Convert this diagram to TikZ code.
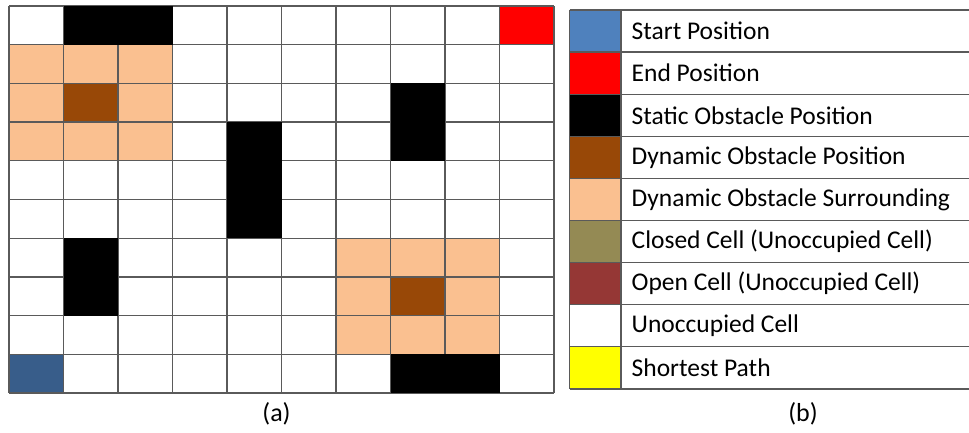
\documentclass[tikz,border=0pt]{standalone}
\usepackage{fontspec}
\setmainfont{Carlito}
\definecolor{startgrid}{HTML}{385D8A}
\definecolor{startleg}{HTML}{4F81BD}
\definecolor{endc}{HTML}{FF0000}
\definecolor{dynpos}{HTML}{984807}
\definecolor{dynsur}{HTML}{FAC090}
\definecolor{closedc}{HTML}{948A54}
\definecolor{openc}{HTML}{953735}
\definecolor{pathc}{HTML}{FFFF00}
\definecolor{gridline}{HTML}{5A5A5A}
\tikzset{
  gl/.style={draw=gridline, line width=1.3pt},
  legtext/.style={anchor=west, font=\fontsize{25.5}{30}\selectfont, inner sep=0pt},
  captxt/.style={font=\fontsize{26}{31}\selectfont, inner sep=0pt}
}
\newcommand{\cellfill}[3]{\fill[#3] ({\gx+#1*\cw},{\gy+#2*\ch}) rectangle ({\gx+(#1+1)*\cw},{\gy+(#2+1)*\ch});}
\newcommand{\blockfill}[4]{\fill[black] ({\gx+#1*\cw},{\gy+#2*\ch}) rectangle ({\gx+#3*\cw},{\gy+#4*\ch});}
\begin{document}
\begin{tikzpicture}[x=1pt,y=-1pt]
\useasboundingbox (0,0) rectangle (969,432);
\begin{scope}
\clip (0,0) rectangle (969,432);
\def\cw{54.5}
\def\ch{38.7}
\def\gx{9}
\def\gy{6}
% end / start
\cellfill{9}{0}{endc}
\cellfill{0}{9}{startgrid}
% dynamic obstacle 1
\foreach \c in {0,1,2}{\foreach \r in {1,2,3}{\cellfill{\c}{\r}{dynsur}}}
\cellfill{1}{2}{dynpos}
% dynamic obstacle 2
\foreach \c in {6,7,8}{\foreach \r in {6,7,8}{\cellfill{\c}{\r}{dynsur}}}
\cellfill{7}{7}{dynpos}
% grid lines
\foreach \i in {0,...,10}{
  \draw[gl] ({\gx+\i*\cw},\gy) -- ({\gx+\i*\cw},{\gy+10*\ch});
  \draw[gl] (\gx,{\gy+\i*\ch}) -- ({\gx+10*\cw},{\gy+\i*\ch});
}
% static obstacles (drawn over the grid lines)
\blockfill{1}{0}{3}{1}
\blockfill{4}{3}{5}{6}
\blockfill{7}{2}{8}{4}
\blockfill{1}{6}{2}{8}
\blockfill{7}{9}{9}{10}
% legend
\def\lx{569.5}
\def\lc{621}
\def\ly{10}
\def\lh{42.1}
\foreach \col [count=\k from 0] in {startleg,endc,black,dynpos,dynsur,closedc,openc,white,pathc}{
  \fill[\col] (\lx,{\ly+\k*\lh}) rectangle (\lc,{\ly+(\k+1)*\lh});
}
\foreach \i in {0,...,9}{
  \draw[gl] (\lx,{\ly+\i*\lh}) -- (975,{\ly+\i*\lh});
}
\draw[gl] (\lx,\ly) -- (\lx,{\ly+9*\lh});
\draw[gl] (\lc,\ly) -- (\lc,{\ly+9*\lh});
\end{scope}
\node[legtext] (t1) at (631.5,31.05) {Start Position};
\node[legtext] (t2) at (631.5,73.15) {End Position};
\node[legtext] (t3) at (631.5,115.25) {Static Obstacle Position};
\node[legtext] (t4) at (631.5,157.35) {Dynamic Obstacle Position};
\node[legtext] (t5) at (631.5,199.45) {Dynamic Obstacle Surrounding};
\node[legtext] (t6) at (631.5,241.55) {Closed Cell (Unoccupied Cell)};
\node[legtext] (t7) at (631.5,283.65) {Open Cell (Unoccupied Cell)};
\node[legtext] (t8) at (631.5,325.75) {Unoccupied Cell};
\node[legtext] (t9) at (631.5,367.85) {Shortest Path};
\node[captxt] (capa) at (276.5,414) {(a)};
\node[captxt] (capb) at (803,414) {(b)};
\end{tikzpicture}
\end{document}
